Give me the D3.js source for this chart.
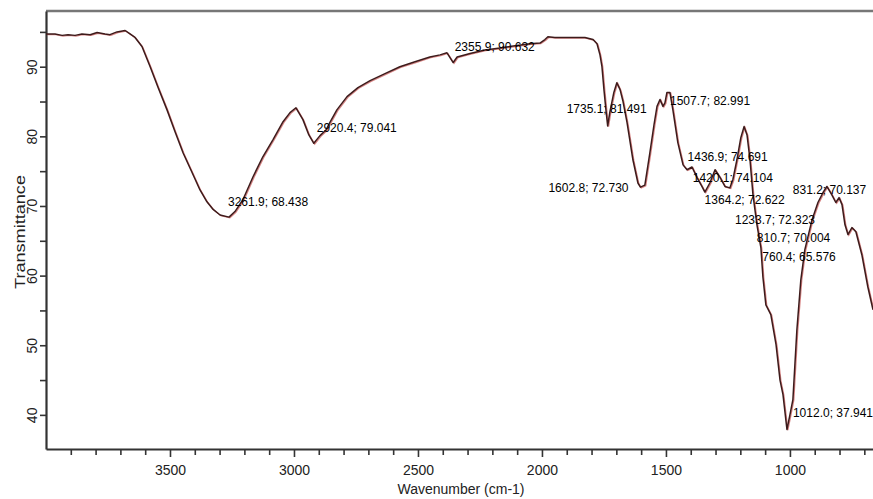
<!DOCTYPE html>
<html>
<head>
<meta charset="utf-8">
<script src="https://cdn.jsdelivr.net/npm/d3@7"></script>
<style>
  body { margin: 0; background: #fff; }
  text { font-family: Arial, "Liberation Sans", sans-serif; }
</style>
</head>
<body>
<div id="chart"></div>
<script>
////////////////////////////////////////////////////////////////////////
// Data

// wavenumber (cm-1) of each sampled point of the trace
const wavenumber = [
  4000, 3964, 3935, 3911, 3883, 3855, 3822, 3794, 3762, 3742, 3714, 3681,
  3661, 3641, 3613, 3580, 3548, 3512, 3480, 3447, 3411, 3379, 3351, 3326,
  3298, 3262, 3238, 3206, 3165, 3125, 3085, 3044, 3016, 2992, 2964, 2940,
  2920, 2895, 2871, 2855, 2827, 2786, 2742, 2693, 2633, 2573, 2512, 2452,
  2411, 2383, 2358, 2342, 2290, 2230, 2169, 2109, 2048, 2008, 1988, 1976,
  1948, 1907, 1867, 1827, 1794, 1778, 1766, 1758, 1750, 1742, 1735, 1726,
  1710, 1698, 1685, 1673, 1657, 1633, 1613, 1603, 1585, 1565, 1548, 1536,
  1524, 1512, 1504, 1496, 1484, 1472, 1452, 1431, 1415, 1395, 1375, 1355,
  1343, 1323, 1302, 1282, 1262, 1242, 1230, 1214, 1198, 1185, 1173, 1161,
  1149, 1133, 1117, 1109, 1097, 1077, 1056, 1040, 1028, 1012, 1000, 988,
  972, 956, 940, 911, 887, 867, 851, 831, 815, 802, 790, 778, 766, 750,
  734, 710, 686, 665
];

// % transmittance at each wavenumber above
const transmittance = [
  94.7, 94.7, 94.5, 94.6, 94.5, 94.7, 94.6, 94.9, 94.7, 94.6, 95.0, 95.2,
  94.7, 94.2, 92.9, 90.0, 87.0, 83.8, 80.7, 77.6, 74.8, 72.3, 70.6, 69.5,
  68.7, 68.4, 69.2, 70.9, 74.2, 77.1, 79.5, 82.1, 83.4, 84.1, 82.4, 80.2,
  79.0, 80.1, 80.9, 82.0, 83.8, 85.7, 87.0, 88.0, 89.0, 90.0, 90.7, 91.4,
  91.7, 92.0, 90.6, 91.4, 91.9, 92.4, 92.7, 93.0, 93.3, 93.4, 93.9, 94.3,
  94.2, 94.2, 94.2, 94.2, 93.9, 93.3, 91.7, 90.0, 86.7, 83.8, 81.5, 83.5,
  86.3, 87.7, 86.7, 85.0, 82.0, 76.6, 73.3, 72.7, 73.0, 77.6, 81.7, 84.3,
  85.3, 84.3, 84.8, 86.3, 86.3, 83.8, 79.1, 75.9, 75.2, 75.6, 74.1, 72.8,
  72.0, 73.3, 75.2, 74.1, 72.8, 72.6, 73.8, 76.6, 79.8, 81.4, 80.2, 76.6,
  71.6, 67.3, 64.0, 59.8, 55.8, 54.4, 50.1, 45.0, 42.9, 37.9, 40.0, 42.2,
  52.2, 59.4, 63.7, 68.0, 70.5, 71.9, 72.8, 71.6, 70.5, 71.2, 70.2, 67.3,
  65.9, 66.9, 66.3, 63.0, 58.4, 55.1
];

// peak-pick annotations: wavenumber, transmittance
const peakWn = [3261.9, 2920.4, 2355.9, 1735.1, 1507.7, 1602.8, 1436.9,
                1420.1, 1364.2, 1233.7, 1012.0, 831.2, 810.7, 760.4];
const peakT  = [68.438, 79.041, 90.632, 81.491, 82.991, 72.730, 74.691,
                74.104, 72.622, 72.323, 37.941, 70.137, 70.004, 65.576];

// axis ticks
const xMajorTicks = [3500, 3000, 2500, 2000, 1500, 1000];
const xMinorTicks = [3900, 3800, 3700, 3600, 3400, 3300, 3200, 3100, 2900,
                     2800, 2700, 2600, 2400, 2300, 2200, 2100, 1900, 1800,
                     1700, 1600, 1400, 1300, 1200, 1100, 900, 800, 700];
const yMajorTicks = [40, 50, 60, 70, 80, 90];
const yMinorTicks = [45, 55, 65, 75, 85, 95];

// where each annotation's text sits relative to its peak (px)
const labelOffsets = [[-1, -11], [3, -11], [1, -11], [-41, -13], [6, -11],
                      [-92, 5], [6, -12], [7, 5], [5, 16], [3, 34],
                      [6, -12], [-39, -11], [-80, 36], [-87, 24]];

////////////////////////////////////////////////////////////////////////
// Layout

const width = 873, height = 499;
const margin = { left: 46, top: 11, right: 873, bottom: 449 };

const svg = d3.select("#chart").append("svg")
  .attr("width", width)
  .attr("height", height);

const xScale = d3.scaleLinear().domain([4000, 665]).range([margin.left, margin.right]);
const yScale = d3.scaleLinear().domain([35.1, 98]).range([margin.bottom, margin.top]);

svg.append("clipPath").attr("id", "plot")
  .append("rect")
  .attr("x", margin.left).attr("y", margin.top)
  .attr("width", margin.right - margin.left)
  .attr("height", margin.bottom - margin.top);

// top frame line
svg.append("line")
  .attr("x1", margin.left).attr("x2", margin.right)
  .attr("y1", margin.top).attr("y2", margin.top)
  .attr("stroke", "#777")
  .attr("stroke-width", 2.5);

// x axis, minor then major ticks
svg.append("g")
  .attr("transform", `translate(0,${margin.bottom})`)
  .call(d3.axisBottom(xScale).tickValues(xMinorTicks).tickSize(6).tickSizeOuter(0).tickFormat(""))
  .call(g => g.select(".domain").remove());

const xAxis = svg.append("g")
  .attr("transform", `translate(0,${margin.bottom})`)
  .call(d3.axisBottom(xScale).tickValues(xMajorTicks).tickSize(8).tickSizeOuter(0)
    .tickPadding(8).tickFormat(d3.format("d")));
xAxis.selectAll("text")
  .attr("font-size", 14)
  .attr("fill", "#222");

// y axis
svg.append("g")
  .attr("transform", `translate(${margin.left},0)`)
  .call(d3.axisLeft(yScale).tickValues(yMinorTicks).tickSize(6).tickSizeOuter(0).tickFormat(""))
  .call(g => g.select(".domain").remove());

const yAxis = svg.append("g")
  .attr("transform", `translate(${margin.left},0)`)
  .call(d3.axisLeft(yScale).tickValues(yMajorTicks).tickSize(6).tickSizeOuter(0));
yAxis.selectAll("text")
  .attr("x", null)
  .attr("font-size", 14)
  .attr("fill", "#222")
  .attr("text-anchor", "middle")
  .attr("transform", "translate(-14,0) rotate(-90)")
  .attr("dy", "0.35em");

svg.selectAll(".domain, .tick line")
  .attr("stroke", "#333")
  .attr("stroke-width", 1.6);
xAxis.select(".domain").attr("stroke-width", 2.2);
yAxis.select(".domain").attr("stroke-width", 2.2);

// axis titles
svg.append("text")
  .attr("x", 461).attr("y", 494)
  .attr("text-anchor", "middle")
  .attr("font-size", 14)
  .attr("fill", "#222")
  .text("Wavenumber (cm-1)");

svg.append("text")
  .attr("transform", "translate(25,232) rotate(-90)")
  .attr("text-anchor", "middle")
  .attr("font-size", 15)
  .attr("textLength", 114)
  .attr("lengthAdjust", "spacingAndGlyphs")
  .attr("fill", "#222")
  .text("Transmittance");

////////////////////////////////////////////////////////////////////////
// Spectrum trace

const spectrum = wavenumber.map((w, i) => [w, transmittance[i]]);

const line = d3.line()
  .x(d => xScale(d[0]))
  .y(d => yScale(d[1]));

const traces = svg.append("g").attr("clip-path", "url(#plot)");

// faint red twin trace under the dark one
traces.append("path")
  .datum(spectrum)
  .attr("fill", "none")
  .attr("stroke", "#c65050")
  .attr("stroke-width", 1.3)
  .attr("opacity", 0.7)
  .attr("transform", "translate(0.9,0.7)")
  .attr("d", line);

traces.append("path")
  .datum(spectrum)
  .attr("fill", "none")
  .attr("stroke", "#3d1b1b")
  .attr("stroke-width", 1.5)
  .attr("stroke-linejoin", "round")
  .attr("d", line);

////////////////////////////////////////////////////////////////////////
// Peak labels

svg.append("g")
  .selectAll("text")
  .data(peakWn)
  .join("text")
  .attr("x", (d, i) => xScale(d) + labelOffsets[i][0])
  .attr("y", (d, i) => yScale(peakT[i]) + labelOffsets[i][1])
  .attr("font-size", 12)
  .attr("fill", "#000")
  .text((d, i) => `${d.toFixed(1)}; ${peakT[i].toFixed(3)}`);
</script>
</body>
</html>
